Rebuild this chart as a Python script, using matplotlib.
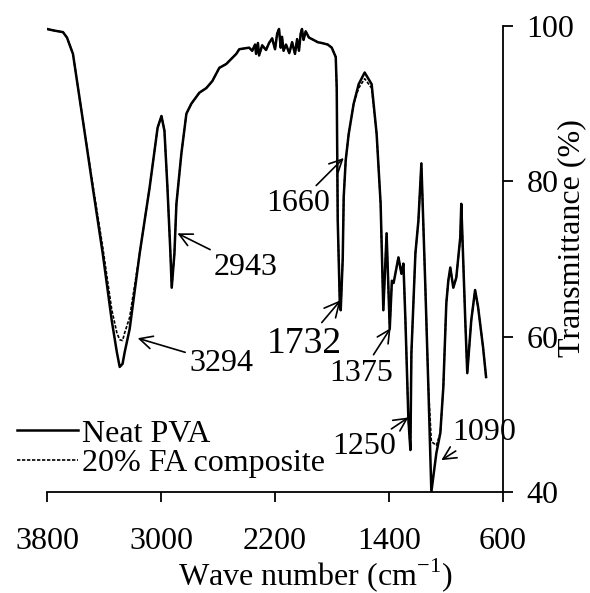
import numpy as np
import matplotlib
matplotlib.use("Agg")
from matplotlib import pyplot as plt

plt.rcParams['font.family'] = ['Liberation Serif', 'DejaVu Serif']
plt.rcParams['mathtext.fontset'] = 'custom'
plt.rcParams['mathtext.rm'] = 'Liberation Serif'

# wavenumber (cm-1) and transmittance (%)
wave = [3800, 3750, 3688, 3660, 3618, 3548, 3479, 3409, 3346, 3310, 3290, 3270,
        3255, 3220, 3150, 3080, 3024, 2997, 2976, 2955, 2934, 2925, 2906, 2892,
        2857, 2822, 2787, 2731, 2682, 2640, 2591, 2542, 2472, 2451, 2382, 2360,
        2340, 2333, 2320, 2312, 2290, 2263, 2242, 2220, 2200, 2185, 2172, 2160,
        2151, 2140, 2123, 2100, 2080, 2060, 2045, 2032, 2020, 2011, 2000, 1985,
        1962, 1930, 1900, 1872, 1830, 1802, 1774, 1767, 1760, 1745, 1739, 1725,
        1718, 1704, 1683, 1648, 1613, 1571, 1522, 1487, 1459, 1440, 1417, 1395,
        1380, 1368, 1334, 1313, 1299, 1285, 1264, 1250, 1243, 1215, 1194, 1173,
        1145, 1124, 1103, 1068, 1040, 1019, 998, 984, 970, 949, 928, 900, 893,
        865, 851, 823, 796, 775, 740, 719]
neat_pva = [99.6, 99.4, 99.2, 98.5, 96.4, 87.8, 79.2, 70.7, 62.1, 58.0, 56.1, 56.5,
            58.0, 61.0, 70.7, 79.2, 86.9, 88.4, 86.5, 79.2, 70.7, 66.3, 70.7, 77.1,
            83.6, 88.7, 90.0, 91.4, 92.0, 92.9, 94.6, 95.1, 96.4, 97.0, 97.2, 96.8,
            97.6, 96.4, 97.8, 96.2, 97.5, 96.9, 97.8, 98.4, 97.0, 99.0, 99.6, 97.2,
            98.6, 96.8, 97.6, 96.5, 97.9, 96.4, 98.3, 96.8, 99.0, 99.6, 98.2, 99.3,
            98.5, 98.2, 97.9, 97.8, 97.6, 97.2, 96.0, 92.0, 75.0, 64.0, 63.4, 70.0,
            78.0, 82.7, 86.1, 90.0, 92.5, 94.0, 92.5, 86.1, 77.1, 63.4, 73.3, 61.0,
            67.2, 66.9, 70.2, 68.1, 69.4, 62.1, 49.3, 45.4, 57.9, 70.7, 74.9, 82.3,
            66.3, 53.5, 40.0, 45.0, 47.6, 53.5, 64.3, 67.2, 68.9, 66.3, 67.6, 72.8, 77.1,
            62.1, 55.3, 62.1, 66.0, 63.8, 58.6, 54.8]
fa_composite = [99.6, 99.4, 99.2, 98.5, 96.4, 87.8, 79.6, 71.5, 63.5, 60.5, 59.6, 59.5,
                60.5, 62.5, 70.7, 79.2, 86.9, 88.4, 86.5, 79.2, 70.7, 66.3, 70.7, 77.1,
                83.6, 88.7, 90.0, 91.4, 92.0, 92.9, 94.6, 95.1, 96.4, 97.0, 97.2, 96.8,
                97.6, 96.4, 97.8, 96.2, 97.5, 96.9, 97.8, 98.4, 97.0, 99.0, 99.6, 97.2,
                98.6, 96.8, 97.6, 96.5, 97.9, 96.4, 98.3, 96.8, 99.0, 99.6, 98.2, 99.3,
                98.5, 98.2, 97.9, 97.8, 97.6, 97.2, 96.0, 92.0, 75.0, 64.0, 63.4, 70.0,
                78.0, 82.7, 86.1, 90.0, 92.0, 93.2, 92.0, 86.1, 77.1, 63.4, 73.3, 61.0,
                67.2, 66.9, 70.2, 68.1, 69.4, 62.1, 49.3, 45.4, 57.9, 70.7, 74.9, 82.3,
                66.3, 53.5, 46.5, 46.0, 47.6, 53.5, 64.3, 67.2, 68.9, 66.3, 67.6, 72.8, 77.1,
                62.1, 55.3, 62.1, 66.0, 63.8, 58.6, 54.8]

# peak labels: (text, label x, label y, arrow x, arrow y, font size)
peaks = [("2943", 2403, 68.9, 2885, 73.3, 23),
         ("3294", 2577, 56.6, 3164, 59.8, 23),
         ("1660", 2039, 77.1, 1718, 83.0, 23),
         ("1732", 1997, 59.1, 1739, 64.7, 27),
         ("1375", 1592, 55.3, 1389, 61.1, 23),
         ("1250", 1571, 45.8, 1264, 49.6, 23),
         ("1090", 733, 47.6, 1033, 44.1, 23)]

fig = plt.figure(figsize=(5.9, 5.93), dpi=100)
ax = fig.add_axes([0.0797, 0.1703, 0.7729, 0.786])

ax.plot(wave, fa_composite, color='black', lw=1.2, ls=(0, (2, 1)), label="20% FA composite")
ax.plot(wave, neat_pva, color='black', lw=1.8, label="Neat PVA")

ax.set_xlim(3800, 600)
ax.set_ylim(40, 100)
ax.set_xticks([3800, 3000, 2200, 1400, 600])
ax.set_yticks([40, 60, 80, 100])

for s in ['top', 'left']:
    ax.spines[s].set_visible(False)
ax.spines['bottom'].set_linewidth(1.3)
ax.spines['right'].set_linewidth(1.3)
ax.yaxis.tick_right()
ax.tick_params(direction='out', length=7, width=1.3, labelsize=23)
ax.tick_params(axis='x', pad=18)
ax.tick_params(axis='y', pad=10)

ax.set_xlabel(r"Wave number (cm$^{\mathrm{-1}}$)", fontsize=23)
ax.xaxis.set_label_coords(0.588, -0.138)
fig.text(572 / 590, 1 - 238 / 593, "Transmittance (%)", rotation=90,
         fontsize=23, ha='center', va='center')

for txt, tx, ty, px, py, fs in peaks:
    ax.annotate(txt, xy=(px, py), xytext=(tx, ty), fontsize=fs,
                ha='center', va='center',
                arrowprops=dict(arrowstyle='->', color='black', lw=1.2,
                                shrinkA=1, shrinkB=0))

handles, labels = ax.get_legend_handles_labels()
ax.legend(handles[::-1], labels[::-1], loc='lower left', bbox_to_anchor=(-0.066, 0.03),
          frameon=False, fontsize=23, handlelength=1.9, handletextpad=0.15,
          labelspacing=0.0, borderpad=0, borderaxespad=0)

fig.savefig("out.png", dpi=100)
